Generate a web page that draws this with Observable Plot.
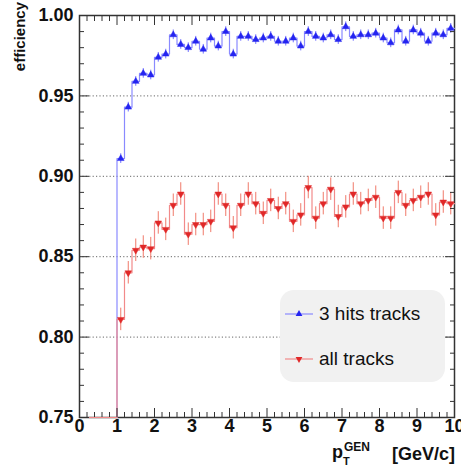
<!DOCTYPE html>
<html><head><meta charset="utf-8">
<script src="https://cdn.jsdelivr.net/npm/d3@7"></script>
<script src="https://cdn.jsdelivr.net/npm/@observablehq/plot@0.6"></script>
<style>body{margin:0;background:#fff;overflow:hidden}</style>
</head><body><div id="chart"></div>
<script>
// bins of width 0.2 GeV/c from 0 to 10
const binStart = 0;
const binWidth = 0.2;
const hits3 = [0,0,0,0,0,
 0.911,0.943,0.959,0.964,0.963,0.974,0.976,0.988,0.982,0.980,
 0.984,0.979,0.986,0.981,0.990,0.976,0.987,0.987,0.985,0.986,
 0.987,0.984,0.984,0.986,0.981,0.990,0.987,0.986,0.988,0.985,
 0.993,0.987,0.988,0.988,0.989,0.986,0.983,0.991,0.984,0.991,
 0.989,0.984,0.989,0.988,0.992];
const allTracks = [0,0,0,0,0,
 0.811,0.840,0.854,0.856,0.855,0.871,0.867,0.882,0.889,0.864,
 0.870,0.870,0.872,0.889,0.882,0.868,0.882,0.889,0.883,0.877,
 0.885,0.880,0.883,0.872,0.876,0.893,0.874,0.883,0.892,0.875,
 0.881,0.889,0.883,0.885,0.887,0.874,0.874,0.890,0.882,0.885,
 0.887,0.889,0.876,0.884,0.883];
const hits3Err = 0.003;
const allTracksErr = 0.007;
const xMajor = [0,1,2,3,4,5,6,7,8,9,10];
const yMajor = [0.75,0.80,0.85,0.90,0.95,1.00];
const seriesNames = ["3 hits tracks", "all tracks"];

const bins = hits3.map((v, i) => ({
  lo: +(binStart + i*binWidth).toFixed(2),
  mid: +(binStart + (i+0.5)*binWidth).toFixed(2),
  b: v, r: allTracks[i]
}));
const xEnd = +(binStart + bins.length*binWidth).toFixed(2);
const stepB = bins.map(d => ({x: d.lo, y: d.b})).concat([{x: xEnd, y: hits3[hits3.length-1]}]);
const stepR = bins.map(d => ({x: d.lo, y: d.r})).concat([{x: xEnd, y: allTracks[allTracks.length-1]}]);
const filled = bins.filter(d => d.b > 0);
const xMinor = d3.range(0, 51).map(i => +(i*0.2).toFixed(2)).filter(v => !xMajor.includes(v));
const yMinor = d3.range(0, 26).map(i => +(0.75 + i*0.01).toFixed(2)).filter(v => !yMajor.some(m => Math.abs(m-v) < 1e-9));

const blueLine = "#8a8aff", blueMark = "#2424f0";
const redLine = "#f28a8a", redMark = "#e02828";

const plot = Plot.plot({
  width: 461, height: 467,
  marginLeft: 79, marginRight: 7, marginTop: 15, marginBottom: 50,
  x: {domain: [0, 10], label: null},
  y: {domain: [0.75, 1.0], clamp: true, label: null},
  style: {fontFamily: "'Liberation Sans', Arial, sans-serif", fontWeight: "bold", color: "#111", background: "#fff"},
  marks: [
    Plot.gridY(yMajor.slice(1), {stroke: "#666", strokeOpacity: 1, strokeDasharray: "1.2,2.2", strokeWidth: 1}),
    Plot.frame({stroke: "#333", strokeWidth: 1.5}),
    Plot.line(stepB, {x: "x", y: "y", curve: "step-after", stroke: blueLine, strokeWidth: 1.2}),
    Plot.ruleX(filled, {x: "mid", y1: d => d.b - hits3Err, y2: d => d.b + hits3Err, stroke: "#7070ff", strokeWidth: 1}),
    Plot.dot(filled, {x: "mid", y: "b", symbol: "triangle", r: 2.5, fill: blueMark, stroke: blueMark, strokeWidth: 0.5}),
    Plot.line(stepR, {x: "x", y: "y", curve: "step-after", stroke: redLine, strokeWidth: 1.2}),
    Plot.ruleX(filled, {x: "mid", y1: d => d.r - allTracksErr, y2: d => d.r + allTracksErr, stroke: "#f07a6a", strokeWidth: 1}),
    Plot.dot(filled, {x: "mid", y: "r", symbol: "triangle", rotate: 180, r: 2.5, fill: redMark, stroke: redMark, strokeWidth: 0.5}),
    Plot.axisX(xMajor, {anchor: "bottom", tickSize: 0, tickPadding: 2, fontSize: 18, label: null, tickFormat: d3.format("d")}),
    Plot.axisX(xMajor, {anchor: "bottom", tickSize: -9, text: null, label: null, stroke: "#333"}),
    Plot.axisX(xMinor, {anchor: "bottom", tickSize: -5, text: null, label: null, stroke: "#333"}),
    Plot.axisX(xMajor, {anchor: "top", tickSize: -9, text: null, label: null, stroke: "#333"}),
    Plot.axisX(xMinor, {anchor: "top", tickSize: -5, text: null, label: null, stroke: "#333"}),
    Plot.axisY(yMajor, {anchor: "left", tickSize: 0, tickPadding: 6, fontSize: 18, label: null, tickFormat: d3.format(".2f")}),
    Plot.axisY(yMajor, {anchor: "left", tickSize: -10, text: null, label: null, stroke: "#333"}),
    Plot.axisY(yMinor, {anchor: "left", tickSize: -5, text: null, label: null, stroke: "#333"}),
    Plot.axisY(yMajor, {anchor: "right", tickSize: -10, text: null, label: null, stroke: "#333"}),
    Plot.axisY(yMinor, {anchor: "right", tickSize: -5, text: null, label: null, stroke: "#333"})
  ]
});

const svg = d3.select(plot);
// y-axis title
svg.append("text").attr("transform", "translate(25,2) rotate(-90)")
  .attr("text-anchor", "end").attr("font-size", 15).attr("font-weight", "bold").attr("fill", "#111")
  .text("efficiency");
// x-axis title
const xt = svg.append("g").attr("font-weight", "bold").attr("fill", "#111").attr("text-anchor", "start");
xt.append("text").attr("x", 455).attr("y", 460).attr("text-anchor", "end").attr("font-size", 18).text("[GeV/c]");
xt.append("text").attr("x", 332).attr("y", 458).attr("font-size", 18).text("p");
xt.append("text").attr("x", 344).attr("y", 451).attr("font-size", 12).text("GEN");
xt.append("text").attr("x", 343).attr("y", 465).attr("font-size", 11).text("T");

// legend
const lg = svg.append("g").attr("text-anchor", "start");
lg.append("rect").attr("x", 280).attr("y", 290).attr("width", 165).attr("height", 92)
  .attr("rx", 14).attr("fill", "#f1f1f1");
const entries = [
  {name: seriesNames[0], line: blueLine, mark: blueMark, rot: 0, y: 314},
  {name: seriesNames[1], line: redLine, mark: redMark, rot: 180, y: 359}
];
for (const e of entries) {
  lg.append("line").attr("x1", 285).attr("x2", 313).attr("y1", e.y).attr("y2", e.y)
    .attr("stroke", e.line).attr("stroke-width", 1.2);
  lg.append("path").attr("d", d3.symbol(d3.symbolTriangle, Math.PI*2.5*2.5)())
    .attr("transform", `translate(299,${e.y}) rotate(${e.rot})`).attr("fill", e.mark);
  lg.append("text").attr("x", 319).attr("y", e.y + 6).attr("font-size", 19)
    .attr("font-weight", "normal").attr("fill", "#111").text(e.name);
}
document.getElementById("chart").appendChild(plot);
</script>
</body></html>
